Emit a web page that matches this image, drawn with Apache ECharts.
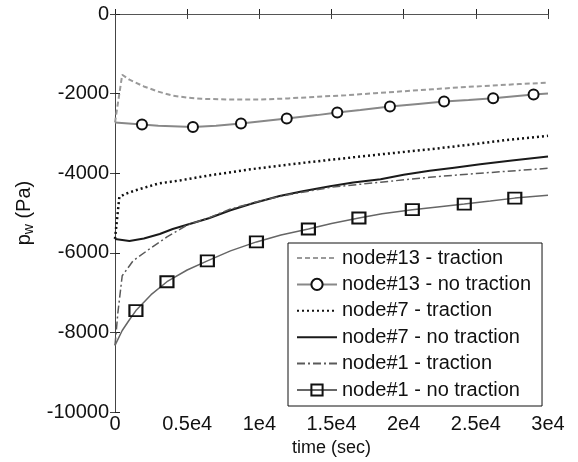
<!DOCTYPE html>
<html>
<head>
<meta charset="utf-8">
<script src="https://cdn.jsdelivr.net/npm/echarts@6/dist/echarts.min.js"></script>
<style>
  html, body { margin: 0; padding: 0; background: #fff; }
  #chart { width: 578px; height: 462px; }
</style>
</head>
<body>
<div id="chart"></div>
<script>
// tick labels
var xTickLabels = ['0', '0.5e4', '1e4', '1.5e4', '2e4', '2.5e4', '3e4']

// node#13 - traction
var n13TracT = [0, 500, 1000, 2000, 3000, 4000, 5000, 6000, 8000, 10000, 12000, 14000, 16000, 18000, 20000, 22000, 24000, 26000, 28000, 30000]
var n13TracP = [-2725, -1525, -1650, -1820, -1950, -2050, -2100, -2130, -2150, -2150, -2120, -2080, -2040, -1990, -1940, -1890, -1840, -1800, -1760, -1725]

// node#13 - no traction
var n13NoTracT = [0, 1870, 3000, 5400, 7000, 8730, 10000, 11900, 14000, 15400, 17000, 19050, 21000, 22800, 24500, 26200, 29000, 30000]
var n13NoTracP = [-2725, -2775, -2810, -2840, -2810, -2750, -2700, -2625, -2540, -2475, -2410, -2325, -2260, -2200, -2160, -2115, -2025, -1995]
var n13Marks = [1870, 5400, 8730, 11900, 15400, 19050, 22800, 26200, 29000]

// node#7 - traction
var n7TracT = [0, 300, 700, 1500, 3000, 4500, 6600, 9400, 11400, 13500, 15500, 18400, 21800, 24600, 27000, 30000]
var n7TracP = [-5650, -4600, -4520, -4420, -4260, -4180, -4050, -3900, -3810, -3720, -3640, -3525, -3400, -3280, -3170, -3060]

// node#7 - no traction
var n7NoTracT = [0, 1000, 2000, 3100, 4000, 5400, 6500, 8000, 9500, 11400, 13000, 14900, 16500, 18400, 20000, 21800, 23500, 25300, 27500, 30000]
var n7NoTracP = [-5650, -5700, -5640, -5525, -5400, -5250, -5130, -4930, -4760, -4570, -4450, -4325, -4230, -4150, -4040, -3940, -3860, -3775, -3680, -3580]

// node#1 - traction
var n1TracT = [0, 200, 500, 1250, 2400, 3600, 5000, 6500, 8000, 10000, 12000, 15000, 18400, 21800, 25300, 30000]
var n1TracP = [-8325, -7500, -6575, -6200, -5900, -5600, -5300, -5120, -4900, -4700, -4540, -4350, -4225, -4100, -4000, -3875]

// node#1 - no traction
var n1NoTracT = [0, 500, 1000, 1450, 2500, 3600, 5000, 6400, 8000, 9800, 11500, 13400, 15000, 16900, 18500, 20600, 22500, 24200, 26000, 27700, 30000]
var n1NoTracP = [-8325, -7950, -7680, -7450, -7050, -6725, -6430, -6200, -5950, -5725, -5550, -5400, -5260, -5125, -5020, -4915, -4840, -4775, -4700, -4625, -4550]
var n1Marks = [1450, 3600, 6400, 9800, 13400, 16900, 20600, 24200, 27700]

function pairs(ts, ps, marks) {
  return ts.map(function (t, i) {
    var item = { value: [t, ps[i]] }
    if (!marks || marks.indexOf(t) < 0) item.symbol = 'none'
    return item
  })
}

var chart = echarts.init(document.getElementById('chart'))
var font = 'Liberation Sans, Arial, sans-serif'

function lineSeries(name, data, color, width, type, extra) {
  var s = {
    name: name,
    type: 'line',
    data: data,
    symbol: 'none',
    showAllSymbol: true,
    silent: true,
    z: 3,
    lineStyle: { color: color, width: width, type: type },
    itemStyle: { color: color },
    emphasis: { disabled: true }
  }
  for (var k in extra) s[k] = extra[k]
  return s
}

// legend entries without a marker: hide the default symbol
var noMark = { itemStyle: { opacity: 0 } }

chart.setOption({
  animation: false,
  backgroundColor: '#fff',
  textStyle: { fontFamily: font },
  grid: { left: 115, top: 14, right: 30, bottom: 48 },
  xAxis: [{
    type: 'value',
    min: 0, max: 30000, interval: 5000,
    name: 'time (sec)',
    nameLocation: 'middle',
    nameGap: 17,
    nameTextStyle: { fontSize: 18, color: '#111', fontFamily: font },
    axisLine: { lineStyle: { color: '#222', width: 1 } },
    axisTick: { inside: true, length: 5, lineStyle: { color: '#222' } },
    axisLabel: {
      fontSize: 20, color: '#111', margin: 2, fontFamily: font,
      formatter: function (v) { return xTickLabels[Math.round(v / 5000)] }
    },
    splitLine: { show: false }
  }, {
    type: 'value', position: 'top',
    min: 0, max: 30000, interval: 5000,
    axisLine: { lineStyle: { color: '#555', width: 1 } },
    axisTick: { inside: true, length: 5, lineStyle: { color: '#444' } },
    axisLabel: { show: false },
    splitLine: { show: false }
  }],
  yAxis: [{
    type: 'value',
    min: -10000, max: 0, interval: 2000,
    name: '{p|p}{w|w}{p| (Pa)}',
    nameLocation: 'middle',
    nameGap: 79,
    nameTextStyle: {
      color: '#111',
      rich: {
        p: { fontSize: 20, fontFamily: font, color: '#111' },
        w: { fontSize: 14, fontFamily: font, color: '#111', verticalAlign: 'bottom', padding: [9, 0, 0, 0] }
      }
    },
    axisLine: { lineStyle: { color: '#222', width: 1 } },
    axisTick: { inside: true, length: 5, lineStyle: { color: '#222' } },
    axisLabel: {
      fontSize: 20, color: '#111', margin: 6, fontFamily: font,
      formatter: function (v) { return String(v) }
    },
    splitLine: { show: false }
  }, {
    type: 'value', position: 'right',
    min: -10000, max: 0, interval: 2000,
    axisLine: { show: true, lineStyle: { color: '#444', width: 1 } },
    axisTick: { show: true, inside: true, length: 5, lineStyle: { color: '#444' } },
    axisLabel: { show: false },
    splitLine: { show: false }
  }],
  legend: {
    orient: 'vertical',
    left: 288, top: 243,
    padding: [5, 11, 6, 8],
    backgroundColor: '#fff',
    borderColor: '#111',
    borderWidth: 1,
    borderRadius: 0,
    itemWidth: 40,
    itemHeight: 14,
    itemGap: 6.4,
    selectedMode: false,
    textStyle: { fontSize: 20, color: '#111', fontFamily: font, lineHeight: 20 },
    data: [
      Object.assign({ name: 'node#13 - traction' }, noMark),
      { name: 'node#13 - no traction' },
      Object.assign({ name: 'node#7 - traction' }, noMark),
      Object.assign({ name: 'node#7 - no traction' }, noMark),
      Object.assign({ name: 'node#1 - traction' }, noMark),
      { name: 'node#1 - no traction' }
    ]
  },
  series: [
    lineSeries('node#13 - traction', pairs(n13TracT, n13TracP), '#9a9a9a', 2, [5, 3]),
    lineSeries('node#13 - no traction', pairs(n13NoTracT, n13NoTracP, n13Marks), '#888', 2, 'solid', {
      symbol: 'circle', symbolSize: 10,
      itemStyle: { color: '#fff', borderColor: '#111', borderWidth: 2 }
    }),
    lineSeries('node#7 - traction', pairs(n7TracT, n7TracP), '#111', 2.5, [2, 3]),
    lineSeries('node#7 - no traction', pairs(n7NoTracT, n7NoTracP), '#1a1a1a', 2, 'solid'),
    lineSeries('node#1 - traction', pairs(n1TracT, n1TracP), '#5a5a5a', 1.5, [8, 3, 2, 3]),
    lineSeries('node#1 - no traction', pairs(n1NoTracT, n1NoTracP, n1Marks), '#666', 1.5, 'solid', {
      symbol: 'rect', symbolSize: [13, 11],
      itemStyle: { color: 'rgba(255,255,255,0)', borderColor: '#111', borderWidth: 2 }
    })
  ]
})
</script>
</body>
</html>
